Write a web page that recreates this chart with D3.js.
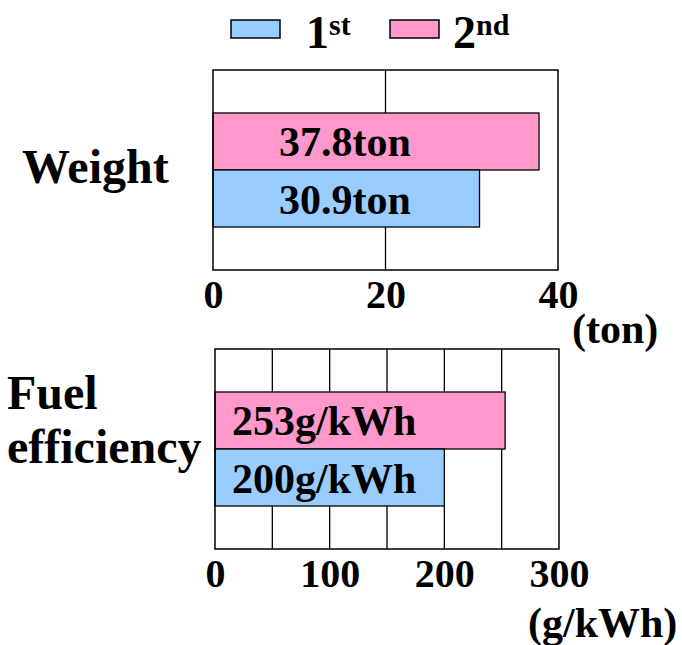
<!DOCTYPE html>
<html>
<head>
<meta charset="utf-8">
<script src="https://cdn.jsdelivr.net/npm/d3@7"></script>
<style>
  html, body { margin: 0; padding: 0; background: #fff; }
  svg text { font-family: "Liberation Serif", "Times New Roman", serif; font-weight: bold; fill: #000; }
</style>
</head>
<body>
<svg id="chart" width="682" height="645"></svg>
<script>
// ---- data ----
const categories = ["Weight", "Fuel efficiency"];
const seriesNames = ["1st", "2nd"];
const firstValues = [30.9, 200];
const secondValues = [37.8, 253];
const units = ["ton", "g/kWh"];
const axisMax = [40, 300];
const gridSteps = [20, 50];
const tickLabels = [[0, 20, 40], [0, 100, 200, 300]];
const seriesColors = ["#99CCFF", "#FF99CC"];

const svg = d3.select("#chart");

// panel layout
const panels = [
  { left: 213, right: 558, top: 70, bottom: 270, labelOffset: 66,
    catLines: ["Weight"], catX: 22, catY: [183], unitX: 572, unitY: 343 },
  { left: 215, right: 559, top: 349, bottom: 549, labelOffset: 17,
    catLines: ["Fuel", "efficiency"], catX: 7, catY: [409, 463], unitX: 528, unitY: 637 }
];

panels.forEach((p, i) => {
  const g = svg.append("g");
  const x = d3.scaleLinear().domain([0, axisMax[i]]).range([p.left, p.right]);
  const y = d3.scaleBand().domain(["2nd", "1st"]).range([p.top, p.bottom])
    .paddingInner(0).paddingOuter(0.754);

  // grid lines
  const grid = d3.range(gridSteps[i], axisMax[i], gridSteps[i]);
  g.selectAll("line.grid").data(grid).enter().append("line")
    .attr("x1", d => x(d)).attr("x2", d => x(d))
    .attr("y1", p.top).attr("y2", p.bottom)
    .attr("stroke", "#000").attr("stroke-width", 1.3);

  // bars
  const rows = [
    { s: "2nd", v: secondValues[i], c: seriesColors[1] },
    { s: "1st", v: firstValues[i], c: seriesColors[0] }
  ];
  g.selectAll("rect.bar").data(rows).enter().append("rect")
    .attr("x", x(0)).attr("y", d => y(d.s))
    .attr("width", d => x(d.v) - x(0)).attr("height", y.bandwidth())
    .attr("fill", d => d.c).attr("stroke", "#000").attr("stroke-width", 1.3);

  // frame
  g.append("rect")
    .attr("x", p.left).attr("y", p.top)
    .attr("width", p.right - p.left).attr("height", p.bottom - p.top)
    .attr("fill", "none").attr("stroke", "#000").attr("stroke-width", 1.5);

  // bar labels
  g.selectAll("text.val").data(rows).enter().append("text")
    .attr("x", x(0) + p.labelOffset)
    .attr("y", d => y(d.s) + y.bandwidth() / 2 + 15)
    .attr("font-size", 42)
    .text(d => d.v + units[i]);

  // axis
  const axis = d3.axisBottom(x).tickValues(tickLabels[i]).tickSize(0).tickPadding(0)
    .tickFormat(d3.format("d"));
  const ag = g.append("g").attr("transform", `translate(0,${p.bottom})`).call(axis);
  ag.select(".domain").remove();
  ag.selectAll("text")
    .attr("dy", null).attr("y", 38)
    .attr("font-size", 40)
    .style("font-family", "Liberation Serif, Times New Roman, serif")
    .style("font-weight", "bold");

  // unit
  g.append("text").attr("x", p.unitX).attr("y", p.unitY)
    .attr("font-size", 42).text("(" + units[i] + ")");

  // category label lines
  g.selectAll("text.cat").data(p.catLines).enter().append("text")
    .attr("x", p.catX).attr("y", (d, k) => p.catY[k])
    .attr("font-size", 48).text(d => d);
});

// legend
const legendItems = [
  { name: seriesNames[0], color: seriesColors[0], rx: 231, tx: 306 },
  { name: seriesNames[1], color: seriesColors[1], rx: 390, tx: 453 }
];
legendItems.forEach(it => {
  svg.append("rect").attr("x", it.rx).attr("y", 20).attr("width", 49).attr("height", 18)
    .attr("fill", it.color).attr("stroke", "#000").attr("stroke-width", 1.5);
  const t = svg.append("text").attr("x", it.tx).attr("y", 48).attr("font-size", 46);
  t.append("tspan").text(it.name.charAt(0));
  t.append("tspan").attr("font-size", 30).attr("dy", -13).text(it.name.slice(1));
});
</script>
</body>
</html>
